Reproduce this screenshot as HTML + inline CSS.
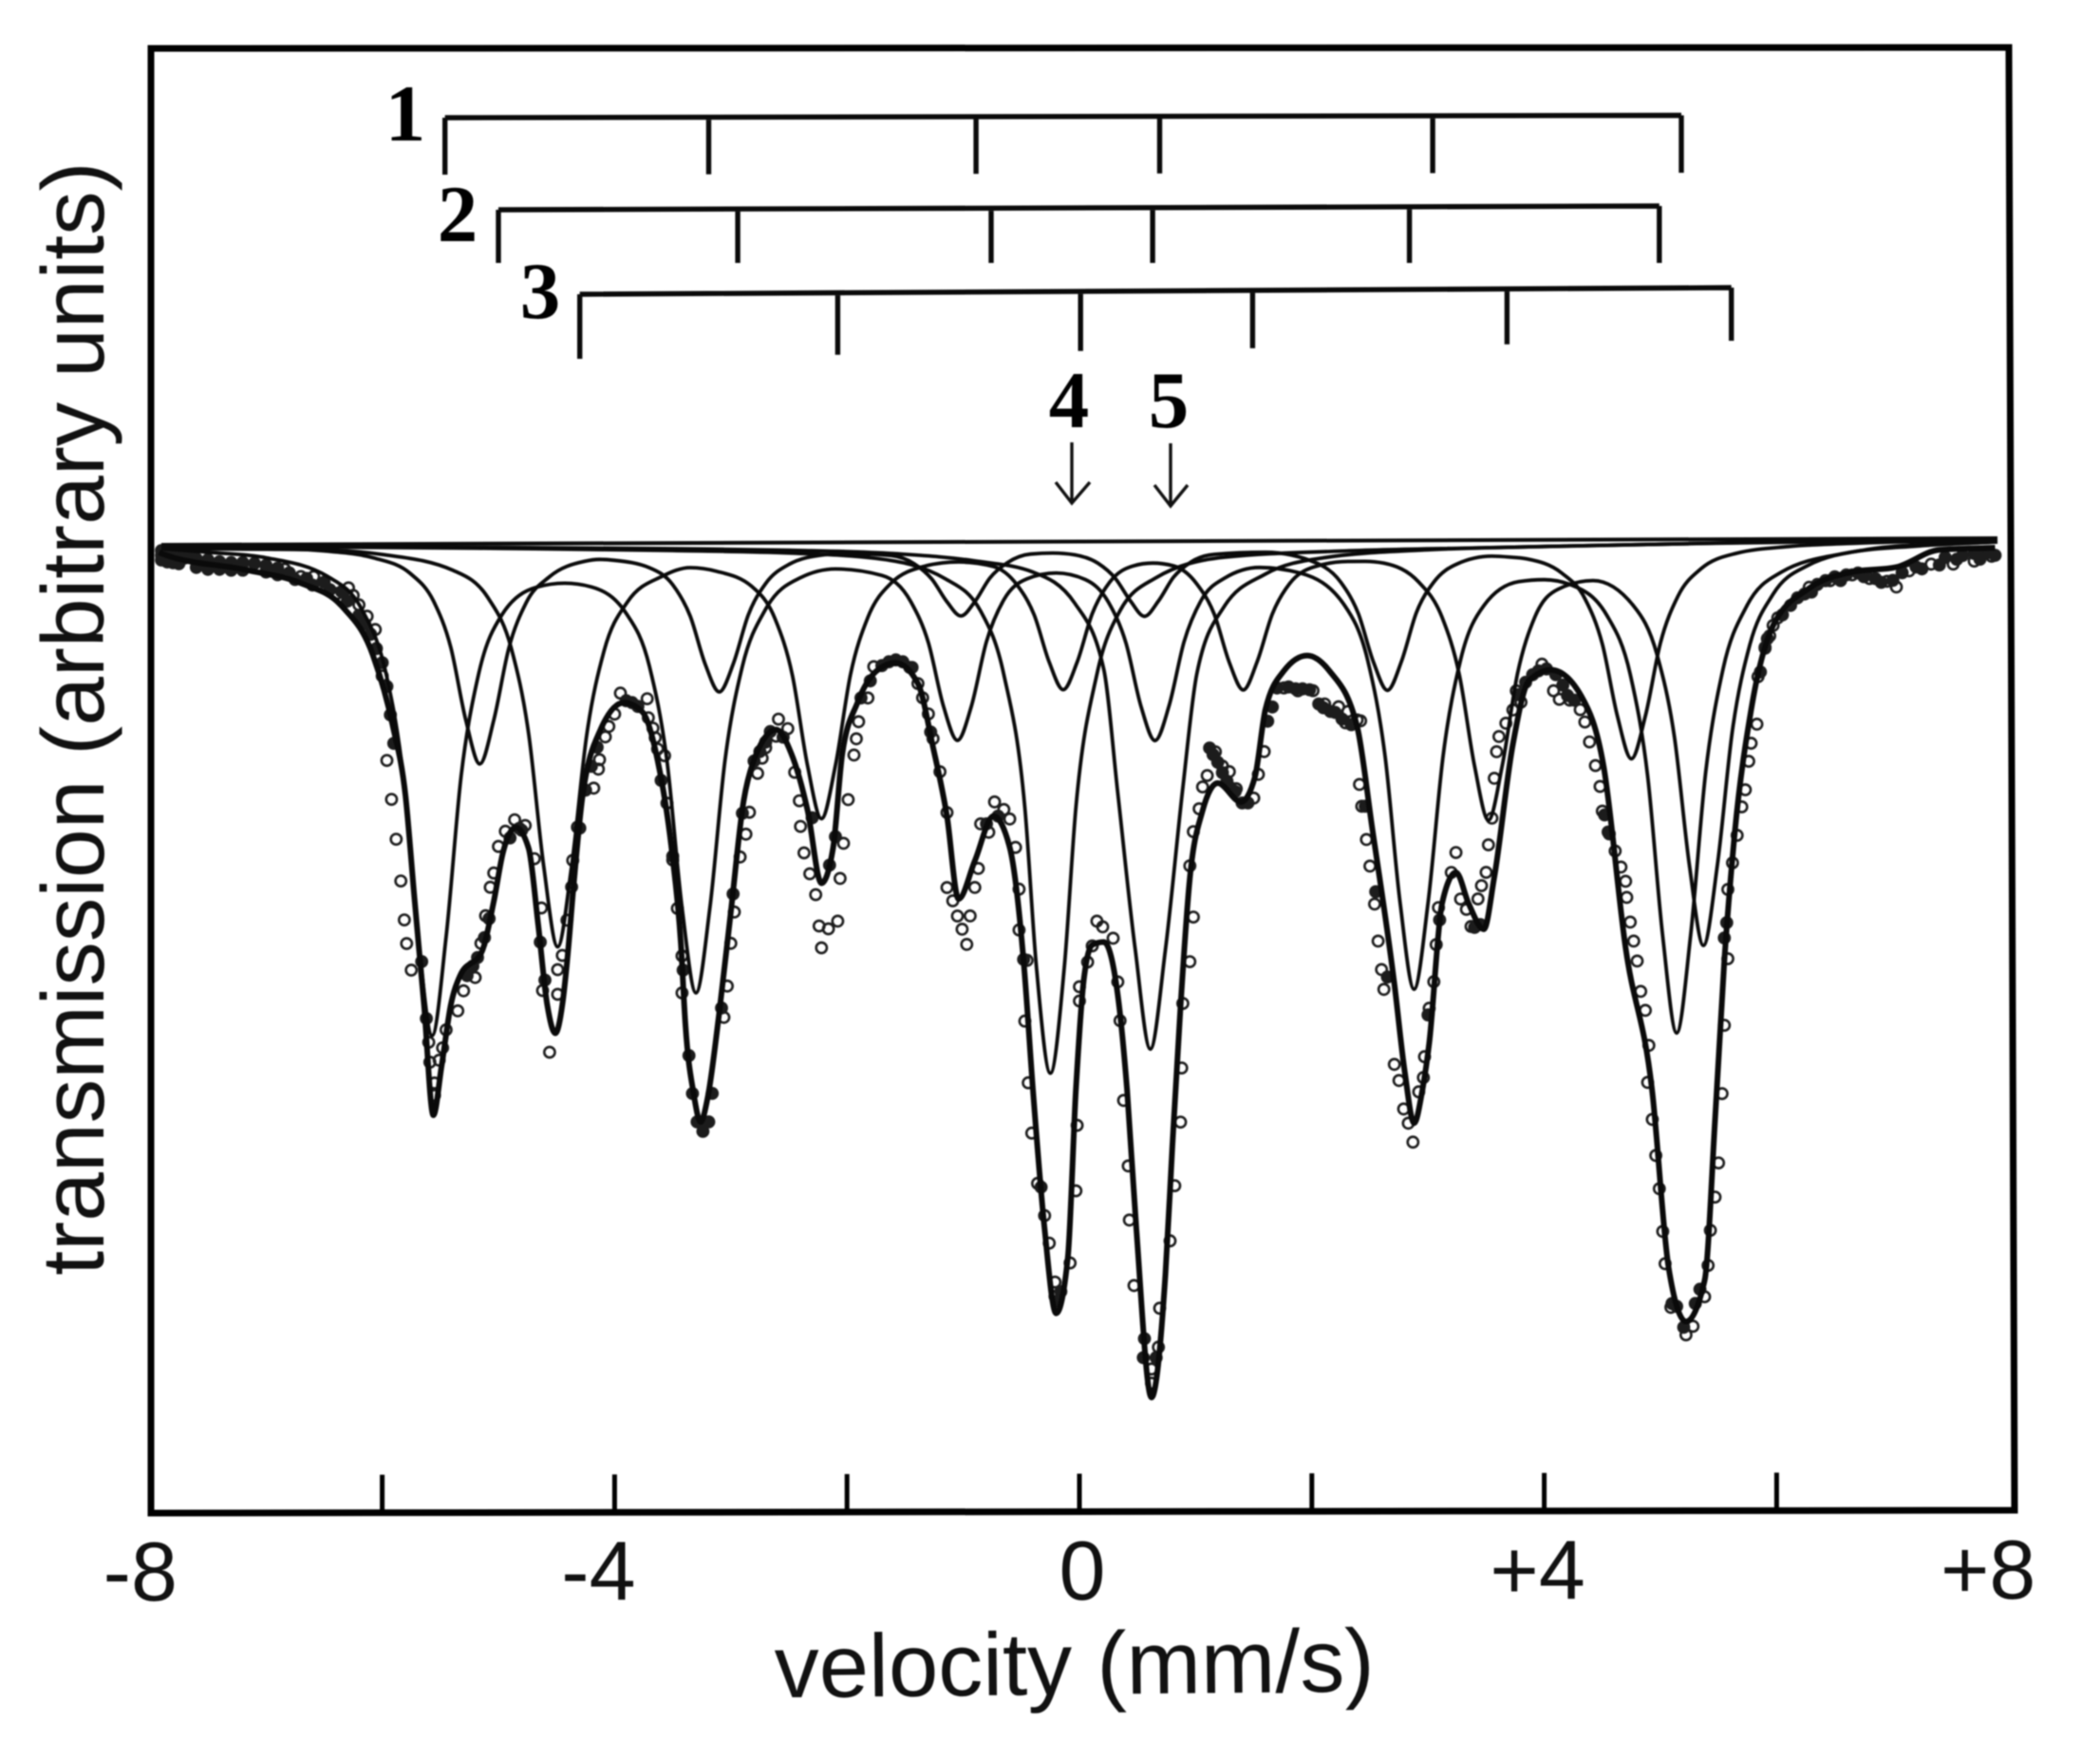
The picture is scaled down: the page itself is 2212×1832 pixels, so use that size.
<!DOCTYPE html>
<html lang="en">
<head>
<meta charset="utf-8">
<title>Mössbauer spectrum: transmission versus velocity</title>
<style>
html,body{margin:0;padding:0;background:#fff;}
#figure{display:block;width:2212px;height:1832px;filter:blur(0.7px);}
.sans{font-family:"Liberation Sans",sans-serif;fill:#111;}
.serif{font-family:"Liberation Serif",serif;font-weight:bold;fill:#000;}
</style>
</head>
<body>
<svg id="figure" xmlns="http://www.w3.org/2000/svg" width="2212" height="1832" viewBox="0 0 2212 1832">
  <rect x="0" y="0" width="2212" height="1832" fill="#fff"/>
  <path d="M159 51 L2116 50 L2122 1591 L159 1594 Z" fill="none" stroke="#000" stroke-width="7" stroke-linejoin="miter"/>
  <g id="x-ticks"></g>
  <g id="x-tick-labels"></g>
  <text class="sans" x="1132" y="1785" font-size="94" text-anchor="middle" transform="rotate(-0.6 1132 1785)">velocity (mm/s)</text>
  <text class="sans" x="109" y="757" font-size="93" text-anchor="middle" transform="rotate(-90 109 757)">transmission (arbitrary units)</text>
  <g id="stick-sets"></g>
  <text class="serif" x="427" y="148" font-size="85" text-anchor="middle">1</text>
  <text class="serif" x="482" y="254" font-size="85" text-anchor="middle">2</text>
  <text class="serif" x="569" y="335" font-size="85" text-anchor="middle">3</text>
  <text class="serif" x="1126" y="450" font-size="85" text-anchor="middle">4</text>
  <text class="serif" x="1231" y="450" font-size="85" text-anchor="middle">5</text>
  <path d="M1129 466 L1129 530 M1112 508 L1129 530 L1148 508" fill="none" stroke="#111" stroke-width="3.4"/>
  <path d="M1233 467 L1233 533 M1216 511 L1233 533 L1251 511" fill="none" stroke="#111" stroke-width="3.4"/>
  <g id="data-points"></g>
  <g id="curves"></g>
</svg>
<script>
// Axis tick values and labels
const xMinorTicks = [-6, -4, -2, 0, 2, 4, 6];
const xLabelValues = [-8, -4, 0, 4, 8];
const xLabelText = ['-8', '-4', '0', '+4', '+8'];

// Stick diagrams: line positions in mm/s
const sticks1 = [-5.46, -3.19, -0.89, 0.69, 3.04, 5.18];
const sticks2 = [-5.0, -2.94, -0.76, 0.63, 2.84, 4.99];
const sticks3 = [-4.3, -2.08, 0.01, 1.49, 3.68, 5.61];

// Series: [velocity mm/s, absorption in arbitrary units]
const baselineCurve = [[-7.9,0],[7.9,0]];
const sextetA = [[-7.9,.4],[-7.5,.8],[-7,1.4],[-6.47,3.4],[-6.17,7],[-5.97,13.5],[-5.82,24.3],[-5.69,41.4],[-5.57,51.8],[-5.45,41.4],[-5.32,24.4],[-5.17,13.7],[-4.97,7.5],[-4.67,4.6],[-4.43,4.2],[-4.2,4.6],[-3.9,7.4],[-3.7,13],[-3.55,22.9],[-3.42,38.4],[-3.3,47.4],[-3.18,38.4],[-3.05,22.9],[-2.9,13],[-2.7,7],[-2.4,3.7],[-2.1,2.8],[-1.7,3.5],[-1.45,6.3],[-1.3,10.6],[-1.17,17.3],[-1.05,20.9],[-.93,17.3],[-.8,10.5],[-.65,6.1],[-.45,3.9],[-.2,3.3],[.05,4],[.25,6.4],[.4,10.7],[.53,17.4],[.65,21],[.77,17.4],[.9,10.6],[1.05,6.2],[1.25,3.9],[1.55,2.8],[1.9,3.4],[2.28,6.8],[2.48,12.6],[2.63,22.7],[2.76,38.2],[2.88,47.3],[3,38.2],[3.13,22.7],[3.28,12.6],[3.48,6.9],[3.78,4.4],[4,4.2],[4.24,4.8],[4.54,8],[4.74,14.2],[4.89,24.9],[5.02,41.8],[5.14,52],[5.26,41.7],[5.39,24.5],[5.54,13.6],[5.74,7.1],[6.04,3.5],[6.6,1.5],[7.2,.8],[7.9,.4]];
const sextetB = [[-7.9,.3],[-7,.4],[-6.5,.7],[-6.06,1.5],[-5.76,3.1],[-5.56,6],[-5.41,10.9],[-5.28,18.6],[-5.16,23.2],[-5.04,18.6],[-4.91,11],[-4.76,6.2],[-4.56,3.5],[-4.26,1.9],[-4.13,1.7],[-4,1.8],[-3.7,2.6],[-3.5,4.4],[-3.35,7.7],[-3.22,12.8],[-3.1,15.7],[-2.98,12.8],[-2.85,7.6],[-2.7,4.3],[-2.5,2.3],[-2.2,1.3],[-2.06,1.2],[-1.92,1.2],[-1.62,1.4],[-1.42,2.3],[-1.27,3.9],[-1.14,6.3],[-1.02,7.8],[-.9,6.3],[-.77,3.8],[-.62,2.2],[-.42,1.3],[-.23,1.2],[-.04,1.4],[.16,2.3],[.31,3.9],[.44,6.3],[.56,7.9],[.68,6.3],[.81,3.8],[.96,2.2],[1.16,1.4],[1.6,1.2],[2.05,2.4],[2.25,4.4],[2.4,7.7],[2.53,12.8],[2.65,15.8],[2.77,12.8],[2.9,7.6],[3.05,4.4],[3.25,2.5],[3.55,1.7],[3.7,1.8],[3.85,2],[4.15,3.5],[4.35,6.2],[4.5,11],[4.63,18.6],[4.75,23.1],[4.87,18.6],[5,10.9],[5.15,6],[5.35,3.1],[5.65,1.5],[6.1,.8],[6.6,.5],[7.9,.2]];
const sextetC = [[-7.9,.4],[-7,.5],[-6.5,.6],[-6,1.1],[-5.39,2.8],[-5.09,5.7],[-4.89,11],[-4.74,20],[-4.61,34],[-4.49,42.5],[-4.37,34],[-4.24,20.2],[-4.09,11.3],[-3.89,6.2],[-3.59,3.5],[-3.35,2.6],[-3.12,3],[-2.82,4.6],[-2.62,8],[-2.47,14],[-2.34,23.5],[-2.22,29.1],[-2.1,23.5],[-1.97,13.9],[-1.82,7.9],[-1.62,4.3],[-1.32,2.5],[-1.18,2.2],[-1.04,2.1],[-.74,2.6],[-.54,4.5],[-.39,7.7],[-.26,12.7],[-.14,15.6],[-.02,12.7],[.11,7.6],[.26,4.3],[.46,2.6],[.63,2.3],[.81,2.6],[1.01,4.5],[1.16,7.7],[1.29,12.8],[1.41,15.7],[1.53,12.7],[1.66,7.7],[1.81,4.5],[2.01,2.8],[2.31,2.2],[2.46,2.2],[2.62,2.4],[2.92,4.4],[3.12,8.1],[3.27,14.2],[3.4,23.8],[3.52,29.5],[3.64,23.7],[3.77,14.1],[3.92,8.1],[4.12,5.2],[4.42,4.3],[4.77,7],[4.97,12.1],[5.12,20.8],[5.25,34.4],[5.37,42.8],[5.49,34.3],[5.62,20.1],[5.77,11.1],[5.97,5.8],[6.27,2.8],[6.8,1.1],[7.3,.6],[7.9,.3]];
const singlet4 = [[-7.9,.1],[-5,.5],[-3.5,.8],[-2.5,1.1],[-1.75,1.7],[-1.15,3.9],[-.85,7.3],[-.65,14],[-.47,28],[-.37,44.8],[-.25,56],[-.13,44.8],[-.03,28],[.15,14],[.35,7.3],[.65,3.9],[1.25,1.7],[2.25,1.1],[3.5,.8],[5,.5],[7.9,.1]];
const singlet5 = [[-7.9,.1],[-5,.4],[-3.5,.6],[-2.5,.8],[-1.6,1.2],[-.9,2],[-.4,3.2],[-.04,6.5],[.21,13.5],[.33,26.5],[.48,43],[.61,53.5],[.74,43],[.89,26],[1.01,14],[1.24,7],[1.6,3.5],[2.1,1.8],[3,1],[4,.7],[6,.3],[7.9,.1]];
const totalFit = [[-7.92,.8],[-7.88,1],[-7.16,2.7],[-6.7,4.1],[-6.35,6.5],[-6.08,11.7],[-5.91,19.1],[-5.8,26.5],[-5.72,37.7],[-5.64,48.6],[-5.56,60.2],[-5.49,55.1],[-5.41,48.6],[-5.33,45.5],[-5.14,42.9],[-5.04,37.7],[-4.96,32.5],[-4.85,29.9],[-4.74,32.1],[-4.66,39.9],[-4.58,48.6],[-4.51,51.6],[-4.45,48.6],[-4.41,44.2],[-4.35,35.6],[-4.28,27],[-4.12,19.6],[-3.92,16.8],[-3.76,17.8],[-3.63,22.9],[-3.51,32.2],[-3.43,42.2],[-3.39,50.9],[-3.32,58],[-3.26,61],[-3.2,58.5],[-3.1,49.5],[-3,38.9],[-2.89,27.2],[-2.81,23.2],[-2.61,19.7],[-2.48,22.2],[-2.34,28.2],[-2.22,35.9],[-2.12,32.2],[-2.04,22.2],[-1.91,16.9],[-1.75,13.6],[-1.58,12.7],[-1.39,14.9],[-1.26,21.6],[-1.14,28.9],[-1.04,37.6],[-.9,33.6],[-.74,28.9],[-.6,32.2],[-.48,44.2],[-.4,57.7],[-.3,72.4],[-.2,81.3],[-.1,75.4],[-.03,57.7],[.04,45.9],[.11,42.5],[.21,42.2],[.33,47.8],[.41,57.8],[.49,72.5],[.62,90.2],[.74,77.2],[.8,63.7],[.87,49],[.95,35.5],[1.06,28.4],[1.19,25.5],[1.39,27.5],[1.51,24.9],[1.6,17.8],[1.76,13.7],[1.96,12.1],[2.15,13.7],[2.39,19.6],[2.52,30.3],[2.71,46.7],[2.8,56],[2.88,61.4],[2.95,58],[3.01,53],[3.12,38.3],[3.24,35],[3.35,38.3],[3.48,41],[3.57,35.5],[3.73,21.5],[3.87,14.8],[4.06,13.7],[4.32,16.5],[4.51,23.8],[4.7,43],[4.93,58.2],[5.07,76.7],[5.22,82.4],[5.38,78.1],[5.47,61.2],[5.55,44.4],[5.64,30.9],[5.78,18],[5.97,9.1],[6.28,5.2],[6.65,3.5],[7.03,3],[7.4,1.2],[7.88,1]];
const measuredLeft = [[-7.9,1.1],[-7.82,1.3],[-7.7,1.4],[-7.53,2.1],[-7.33,2.4],[-7.08,2.4],[-6.84,2.6],[-6.7,3.4],[-6.59,3.4],[-6.51,4.5],[-6.39,5.2],[-6.29,4.6],[-6.25,5.4],[-6.2,6.4],[-6.13,7.6],[-6.06,9],[-6,13.9],[-5.96,22.8],[-5.92,26.9],[-5.88,31.1],[-5.84,35.5],[-5.81,39.6],[-5.79,42.1],[-5.75,44.9],[-5.6,52.5],[-5.59,54.6],[-5.55,56.8],[-5.55,58.1],[-5.51,54.4],[-5.48,53.1],[-5.45,51.2],[-5.35,49.2],[-5.3,47.1],[-5.2,45.7],[-5.15,42.1],[-5.11,39.2],[-5.07,36.2],[-5.04,34.7],[-5,31.9],[-4.94,30.3],[-4.86,29.1],[-4.77,29.7],[-4.69,33.2],[-4.63,38.4],[-4.62,47.1],[-4.56,53.6],[-4.49,44.9],[-4.49,47.5],[-4.45,43.4],[-4.41,39.7],[-4.37,36.2],[-4.36,33.4],[-4.32,29.9],[-4.18,25.8],[-4.14,23.8],[-4.13,22.8],[-4.08,20.4],[-4.05,19.3],[-4,18],[-3.95,15.8]];
const measuredMidLeft = [[-3.72,16.4],[-3.71,18.4],[-3.67,19.5],[-3.65,20.5],[-3.63,21.7],[-3.57,22.4],[-3.55,27.4],[-3.5,33.4],[-3.46,38.5],[-3.42,43.5],[-3.42,47.4],[-3.03,46.7],[-3.06,50],[-2.97,38.9],[-3,42.2],[-2.92,33.1],[-2.87,30.7],[-2.84,28.4],[-2.77,24.3],[-2.73,22.7],[-2.7,21.6],[-2.61,20.4],[-2.59,18.6],[-2.51,19.6],[-2.45,24.2],[-2.41,27.2],[-2.4,29.9],[-2.37,32.7],[-2.32,34.9],[-2.27,37.1],[-2.24,40.4],[-2.22,42.7],[-2.16,40.7],[-2.08,39.9],[-2.06,35.4],[-2.03,31.7],[-1.99,27.1],[-1.94,22.4],[-1.92,20.7],[-1.9,18.9],[-1.82,16.4],[-1.77,13.1],[-1.46,13.2],[-1.39,14.9],[-1.35,16.4],[-1.3,18.1],[-1.26,20.7],[-1.2,24.2],[-1.14,28.5],[-1.14,36.4],[-1.09,37.8],[-1.05,39.4],[-1.01,40.8],[-.97,42.4],[-.94,39.4],[-.9,36.4],[-.87,34.4],[-.78,30.6],[-.85,29.7],[-.73,27.4],[-.65,28.2],[-.6,29.2],[-.55,32.2],[-.52,36.6],[-.52,40.9],[-.45,44.1]];
const measuredCentre = [[-.47,50.5],[-.44,57],[-.41,62.3],[-.36,67.6],[-.3,71],[-.26,73.9],[-.21,78],[-.21,79.5],[-.08,76],[-.03,68.4],[-.02,61.5],[0,48.4],[0,46.9],[.07,44.3],[.11,42.6],[.15,40],[.2,40.6],[.29,41.8],[.33,46.4],[.35,50.5],[.38,58.9],[.42,65.8],[.43,71.5],[.47,78.4],[.62,87.2],[.62,88.7],[.68,84.9],[.69,80.8],[.78,73.7],[.82,67.9],[.87,61.2],[.88,55.5],[.89,48.7],[.95,44.3],[.98,39.6],[.95,34.2],[.98,30.6],[1.03,28.2],[1.06,25.9],[1.1,24.7],[1.17,22.2],[1.23,23.7],[1.29,24.3],[1.35,26.1],[1.5,27.1],[1.54,24.6],[1.59,22.2],[1.76,15.5],[1.88,15.8],[2.01,15.8],[2.11,17.2],[2.23,17.5],[2.29,19.2],[2.31,18],[2.39,18.9],[2.41,25.7],[2.42,19],[2.43,28],[2.47,31.5],[2.5,34.3],[2.54,38.3],[2.57,42.2],[2.6,45.2],[2.62,47.3]];
const measuredRight = [[2.71,55.2],[2.75,56.9],[2.79,59.9],[2.83,61.4],[2.87,63.4],[2.92,58.1],[2.96,56.6],[2.97,54.4],[3.01,49.3],[3.05,46.5],[3.07,42.6],[3.09,38.7],[3.24,32.9],[3.2,35],[3.28,37.8],[3.33,38.9],[3.37,40.7],[3.43,37.8],[3.46,36.4],[3.5,35],[3.52,32.1],[3.55,29.3],[3.57,25.1],[3.59,22.3],[3.61,20.7],[3.67,19.3],[3.73,17.9],[3.76,15.9],[3.8,17.1],[3.98,13.1],[4.08,15.9],[4.13,16.8],[4.22,16.9],[4.31,17.9],[4.35,19.2],[4.39,21.3],[4.44,23.8],[4.48,26],[4.5,28.6],[4.55,30.8],[4.61,32.8],[4.66,34.5],[4.7,36],[4.71,37.7],[4.74,40.3],[4.77,42.3],[4.8,44.4],[4.83,47.6],[4.87,49.6],[4.9,53.3],[4.89,57.2],[4.93,61.1],[4.96,64.9],[4.99,68.4],[5.02,72.9],[5.04,76.3],[5.09,80.9],[5.22,83.8],[5.28,82.9],[5.38,79.8],[5.41,76.5],[5.43,72.8],[5.47,69.3],[5.5,65.7],[5.53,58.4],[5.55,51.2],[5.58,44.2],[5.58,36.9],[5.62,34.1],[5.66,31.2],[5.7,28.2],[5.73,26.4],[5.76,23.4],[5.78,21.5],[5.83,19.5],[5.84,14.5],[5.9,11.4],[5.94,10.2],[5.97,9.1],[6.01,8.3],[6.28,5.1],[6.46,4.4],[6.65,3.8],[6.8,4.2],[6.95,4.5],[7.03,5.1],[7.14,3.4],[7.33,2.7],[7.52,2.7],[7.7,2.4],[7.85,1.9]];
// Overlapping points that read as solid dark runs in the picture
const overlappedLeft = [[-7.9,.6],[-7.9,1.6],[-7.85,.8],[-7.85,1.8],[-7.8,.9],[-7.8,1.9],[-7.75,1],[-7.75,2],[-7.7,1],[-7.65,1.3],[-7.6,1.5],[-7.6,2.4],[-7.5,1.6],[-7.5,2.6],[-7.4,1.8],[-7.4,2.6],[-7.3,1.9],[-7.3,2.7],[-7.2,1.9],[-7.2,2.7],[-7.1,2],[-7,2.2],[-7,2.9],[-6.9,2.5],[-6.9,3.2],[-6.8,3],[-6.75,3.7],[-6.65,3.6],[-6.6,4.3],[-6.5,4],[-6.45,4.8],[-6.35,5],[-6.3,6],[-6.2,7.5],[-6.15,8.4],[-6.1,9.5],[-6.05,11],[-6,12.5],[-5.96,15],[-5.93,18],[-5.9,21],[-5.66,44],[-5.62,50],[-5.27,45.5],[-5.22,44.5],[-5.18,43.6],[-5.12,41.5],[-5.08,39.5],[-4.9,31],[-4.82,30],[-4.8,30.2],[-4.64,42],[-4.6,46],[-4.3,30],[-4.25,26],[-4.2,23.5],[-4.15,21.5],[-3.9,16.6],[-3.85,16.8],[-3.8,17.2],[-3.6,25],[-3.5,33],[-3.41,45],[-3.36,54],[-3.33,58],[-3.29,61],[-3.24,62],[-3.19,61],[-3.16,58],[-3.08,49],[-2.98,37],[-2.9,28.5],[-2.8,23],[-2.75,22],[-2.7,21],[-2.66,19.9],[-2.55,20.5],[-2.3,29],[-2.15,34],[-2.1,31],[-1.88,16.4],[-1.8,14.6],[-1.7,13],[-1.64,12.6],[-1.58,12.4],[-1.52,12.6],[-1.44,13.2],[-1.28,20],[-.8,29.7],[-.7,28.9],[-.48,44],[-.33,68],[-.19,80],[-.16,79]];
const overlappedRight = [[.56,84],[.55,86],[.66,86],[1.12,21.8],[1.15,22.5],[1.19,23.3],[1.23,24.4],[1.27,25.3],[1.3,26],[1.34,26.4],[1.4,27.6],[1.45,27.6],[1.62,19],[1.66,17.5],[1.7,15.5],[1.8,15.4],[1.86,15.6],[1.92,15.6],[1.98,15.7],[2.06,17.2],[2.1,17.6],[2.16,18],[2.2,18.1],[2.26,18.8],[2.34,19.4],[2.46,28],[2.55,37],[2.65,46],[3,50],[3.1,40],[3.4,40.8],[3.45,40.5],[3.78,16.3],[3.84,15],[3.9,14.2],[3.95,13.8],[4.02,13.6],[4.1,14.2],[4.16,15.3],[4.2,16.4],[4.26,16.9],[4.52,29],[4.56,31],[5.1,80.5],[5.14,80.8],[5.2,83],[5.3,80.5],[5.34,79],[5.55,42],[5.57,40.4],[5.86,14],[5.9,11.5],[5.92,10.5],[6.05,8],[6.12,7],[6.18,6.2],[6.24,5.8],[6.3,5.6],[6.35,4.8],[6.42,4.4],[6.5,4],[6.55,4.4],[6.6,3.8],[6.7,3.6],[6.75,4],[6.85,4.2],[6.9,4.6],[7,4.4],[7.08,3.6],[7.2,3],[7.25,3.2],[7.4,2.8],[7.45,2],[7.55,2.2],[7.6,1.8],[7.7,1.6],[7.75,2.2],[7.8,1.6],[7.88,1.8]];

const SVG_NS = 'http://www.w3.org/2000/svg';

function xScale(v) {
  return 1137 + 122.4 * v;
}

// The scanned baseline drifts slightly upward across the plot.
function yScale(v, absorption) {
  return 570.5 - 0.44 * v + absorption * 10;
}

function frameBottomY(v) {
  return 1592.5 - 0.19 * v;
}

function monotonePath(points) {
  const xs = points.map(p => xScale(p[0]));
  const ys = points.map(p => yScale(p[0], p[1]));
  const n = xs.length;
  const secants = [];
  for (let i = 0; i < n - 1; i++) {
    secants.push((ys[i + 1] - ys[i]) / (xs[i + 1] - xs[i]));
  }
  const slopes = new Array(n).fill(0);
  slopes[0] = secants[0];
  slopes[n - 1] = secants[n - 2];
  for (let i = 1; i < n - 1; i++) {
    const a = secants[i - 1];
    const b = secants[i];
    if (a * b <= 0) {
      slopes[i] = 0;
    } else {
      const h0 = xs[i] - xs[i - 1];
      const h1 = xs[i + 1] - xs[i];
      const p = (a * h1 + b * h0) / (h0 + h1);
      slopes[i] = Math.sign(a) * Math.min(Math.abs(a), Math.abs(b), 0.5 * Math.abs(p)) * 2;
    }
  }
  let d = 'M' + xs[0].toFixed(1) + ' ' + ys[0].toFixed(1);
  for (let i = 0; i < n - 1; i++) {
    const h = (xs[i + 1] - xs[i]) / 3;
    d += ' C' + (xs[i] + h).toFixed(1) + ' ' + (ys[i] + slopes[i] * h).toFixed(1) +
         ' ' + (xs[i + 1] - h).toFixed(1) + ' ' + (ys[i + 1] - slopes[i + 1] * h).toFixed(1) +
         ' ' + xs[i + 1].toFixed(1) + ' ' + ys[i + 1].toFixed(1);
  }
  return d;
}

function makeCurve(points, name, width) {
  const el = document.createElementNS(SVG_NS, 'path');
  
  
  el.setAttribute('d', monotonePath(points));
  el.setAttribute('fill', 'none');
  el.setAttribute('stroke', '#0a0a0a');
  el.setAttribute('stroke-width', width);
  el.setAttribute('stroke-linejoin', 'round');
  document.getElementById('curves').appendChild(el);
}

function makePoints(points, fill) {
  points.forEach(function (p) {
    const el = document.createElementNS(SVG_NS, 'circle');
    
    
    el.setAttribute('cx', xScale(p[0]).toFixed(1));
    el.setAttribute('cy', yScale(p[0], p[1]).toFixed(1));
    el.setAttribute('r', '5.6');
    el.setAttribute('fill', fill);
    el.setAttribute('stroke', '#1c1c1c');
    el.setAttribute('stroke-width', '2.6');
    document.getElementById('data-points').appendChild(el);
  });
}

function makeStickSet(positions, name, barLeftY, barRightY, tipLeftY, tipRightY) {
  const first = xScale(positions[0]);
  const last = xScale(positions[positions.length - 1]);
  let d = 'M' + first.toFixed(1) + ' ' + barLeftY + ' L' + last.toFixed(1) + ' ' + barRightY;
  positions.forEach(function (v) {
    const x = xScale(v);
    const t = (x - first) / (last - first);
    const top = barLeftY + (barRightY - barLeftY) * t;
    const tip = tipLeftY + (tipRightY - tipLeftY) * t;
    d += ' M' + x.toFixed(1) + ' ' + top.toFixed(1) + ' L' + x.toFixed(1) + ' ' + tip.toFixed(1);
  });
  const el = document.createElementNS(SVG_NS, 'path');
  
  
  el.setAttribute('d', d);
  el.setAttribute('fill', 'none');
  el.setAttribute('stroke', '#0a0a0a');
  el.setAttribute('stroke-width', '5.4');
  document.getElementById('stick-sets').appendChild(el);
}

xMinorTicks.forEach(function (v) {
  const el = document.createElementNS(SVG_NS, 'line');
  
  
  el.setAttribute('x1', xScale(v).toFixed(1));
  el.setAttribute('x2', xScale(v).toFixed(1));
  el.setAttribute('y1', frameBottomY(v).toFixed(1));
  el.setAttribute('y2', (frameBottomY(v) - 40).toFixed(1));
  el.setAttribute('stroke', '#000');
  el.setAttribute('stroke-width', '5');
  document.getElementById('x-ticks').appendChild(el);
});

const labelNudge = [-10, -17, 3, -7, -22];
xLabelValues.forEach(function (v, i) {
  const el = document.createElementNS(SVG_NS, 'text');
  
  
  el.setAttribute('class', 'sans');
  el.setAttribute('x', (xScale(v) + labelNudge[i]).toFixed(1));
  el.setAttribute('y', (1686 - 0.125 * (v + 8)).toFixed(1));
  el.setAttribute('font-size', '88');
  el.setAttribute('text-anchor', 'middle');
  el.textContent = xLabelText[i];
  document.getElementById('x-tick-labels').appendChild(el);
});

makeStickSet(sticks1, 'stick-diagram-1', 124, 121.5, 184, 182);
makeStickSet(sticks2, 'stick-diagram-2', 221, 217, 277, 277);
makeStickSet(sticks3, 'stick-diagram-3', 310, 303, 378, 359);

makePoints(measuredLeft, 'none');
makePoints(measuredMidLeft, 'none');
makePoints(measuredCentre, 'none');
makePoints(measuredRight, 'none');
makePoints(overlappedLeft, '#1c1c1c');
makePoints(overlappedRight, '#1c1c1c');

makeCurve(baselineCurve, 'baseline-curve', 4);
makeCurve(sextetA, 'sextet-a-curve', 3.8);
makeCurve(sextetB, 'sextet-b-curve', 3.8);
makeCurve(sextetC, 'sextet-c-curve', 3.8);
makeCurve(singlet4, 'singlet-4-curve', 3.8);
makeCurve(singlet5, 'singlet-5-curve', 3.8);
makeCurve(totalFit, 'total-fit-curve', 6);
</script>
</body>
</html>
